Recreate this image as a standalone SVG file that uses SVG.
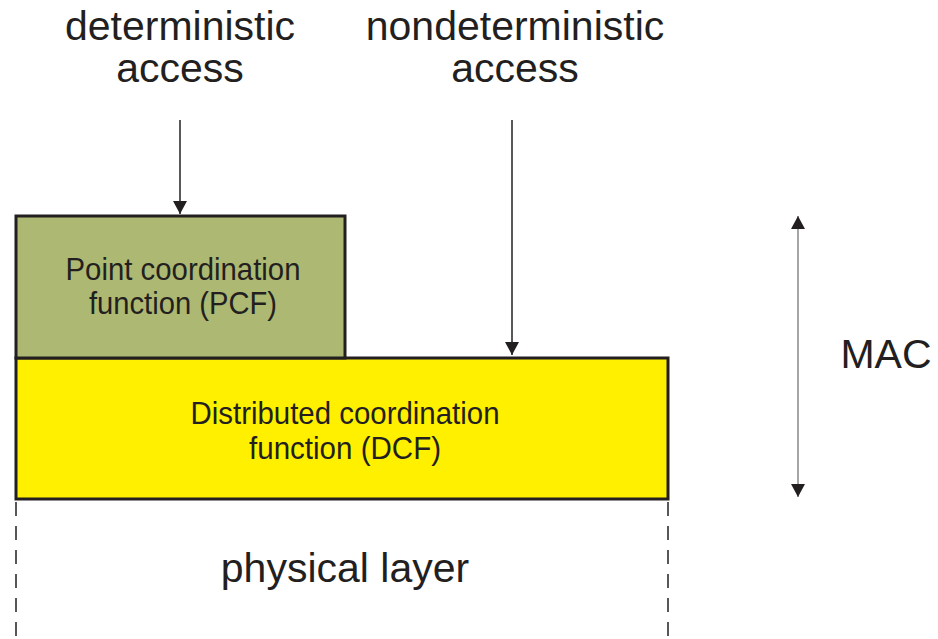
<svg xmlns="http://www.w3.org/2000/svg" width="938" height="639" viewBox="0 0 938 639">
<style>
text{font-family:"Liberation Sans",Arial,sans-serif;fill:#231f20}
.big{font-size:41px}
.box{font-size:32px}
.arr{stroke:#231f20;stroke-width:1.5;fill:none}
.dash{stroke:#231f20;stroke-width:1.5;stroke-dasharray:14 10;fill:none}
</style>
<defs>
<marker id="ah" viewBox="0 0 13 14" refX="13" refY="7" markerWidth="13" markerHeight="14" markerUnits="userSpaceOnUse" orient="auto">
<path d="M0,0 L13,7 L0,14 Z" fill="#231f20"/>
</marker>
<marker id="ahs" viewBox="0 0 13 14" refX="0" refY="7" markerWidth="13" markerHeight="14" markerUnits="userSpaceOnUse" orient="auto">
<path d="M13,0 L0,7 L13,14 Z" fill="#231f20"/>
</marker>
</defs>
<g id="label-deterministic">
<text class="big" x="180" y="40" text-anchor="middle">deterministic</text>
<text class="big" x="180" y="82" text-anchor="middle">access</text>
</g>
<g id="label-nondeterministic">
<text class="big" x="515" y="40" text-anchor="middle">nondeterministic</text>
<text class="big" x="515" y="82" text-anchor="middle">access</text>
</g>
<g id="dcf">
<rect x="16" y="358" width="652" height="141" fill="#fff000" stroke="#231f20" stroke-width="3"/>
<text class="box" x="345" y="424" text-anchor="middle" textLength="309" lengthAdjust="spacingAndGlyphs">Distributed coordination</text>
<text class="box" x="345" y="459" text-anchor="middle" textLength="192" lengthAdjust="spacingAndGlyphs">function (DCF)</text>
</g>
<g id="pcf">
<rect x="16" y="216" width="329" height="142" fill="#adb972" stroke="#231f20" stroke-width="3"/>
<text class="box" x="183" y="280" text-anchor="middle" textLength="235" lengthAdjust="spacingAndGlyphs">Point coordination</text>
<text class="box" x="183" y="314" text-anchor="middle" textLength="188" lengthAdjust="spacingAndGlyphs">function (PCF)</text>
</g>
<g id="mac">
<text class="big" x="886" y="368" text-anchor="middle">MAC</text>
</g>
<g id="physical">
<text class="big" x="345" y="582" text-anchor="middle">physical layer</text>
</g>
<g id="connectors">
<line class="arr" x1="180" y1="120" x2="180" y2="214" marker-end="url(#ah)"/>
<line class="arr" x1="512" y1="120" x2="512" y2="355" marker-end="url(#ah)"/>
<line x1="798" y1="216" x2="798" y2="497" stroke="#888" stroke-width="1.5" marker-start="url(#ahs)" marker-end="url(#ah)"/>
<line class="dash" x1="16" y1="502" x2="16" y2="639"/>
<line class="dash" x1="668" y1="502" x2="668" y2="639"/>
</g>
</svg>
